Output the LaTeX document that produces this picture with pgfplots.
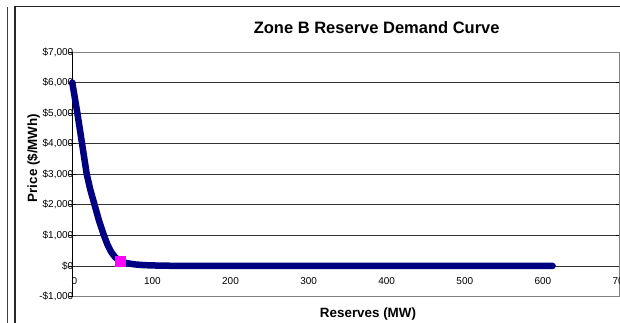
\documentclass[border=0pt]{standalone}
\usepackage{fontspec}
\setmainfont{Liberation Sans}
\usepackage{pgfplots}
\pgfplotsset{compat=1.18}
\definecolor{curvenavy}{RGB}{0,0,128}
\definecolor{markpink}{RGB}{255,0,255}
\begin{document}
\begin{tikzpicture}[x=1pt,y=1pt]
\useasboundingbox (0,0) rectangle (620,322);
% chart area frames
\draw[black!75, line width=1pt] (7,-5) -- (7,315);
\draw[black!85, line width=1.2pt] (15,-10) -- (15,315.5) -- (640,315.5);
\begin{axis}[
  at={(72.3pt,25.5pt)}, anchor=south west,
  scale only axis, width=546.7pt, height=244.5pt,
  xmin=0, xmax=700, ymin=-1000, ymax=7000,
  xtick={0,100,...,700},
  xticklabels={0,100,200,300,400,500,600,700},
  ytick={-1000,0,...,7000},
  yticklabels={{-\$1,000},{\$0},{\$1,000},{\$2,000},{\$3,000},{\$4,000},{\$5,000},{\$6,000},{\$7,000}},
  tick label style={font=\fontsize{10}{12}\selectfont, text=black},
  xticklabel style={anchor=base, yshift=12.2pt, xshift=2pt},
  yticklabel style={anchor=east, xshift=8pt},
  ymajorgrids,
  major grid style={black!80, line width=0.8pt},
  axis line style={black!50, line width=0.8pt},
  xtick style={draw=none},
  ytick style={black, line width=0.8pt},
  ytick align=center, major tick length=7pt,
  extra y ticks={0}, extra y tick labels={},
  extra y tick style={grid style={black, line width=1pt}, tick style={draw=none}},
  clip=false,
]
\draw[black, line width=1pt] (axis cs:0,-1000) -- (axis cs:0,7000);
% reserve demand curve
\addplot[curvenavy, line width=6.5pt, line cap=round, line join=round] table {
x y
0 6000
6.5 5000
12.5 4000
15.5 3500
18.5 3000
23 2500
28.5 2000
34 1500
40.5 1000
45 700
50 450
55 280
61 160
70 90
80 50
90 30
100 18
120 7
150 2
200 0
615 0
};
% current operating point
\addplot[only marks, mark=square*, mark size=5pt, mark options={draw=markpink, fill=markpink}] coordinates {(61,160)};
\end{axis}
\node[anchor=base, font=\bfseries\fontsize{16.5}{19}\selectfont] at (376.7,288.7) {Zone B Reserve Demand Curve};
\node[anchor=base, font=\bfseries\fontsize{13.4}{16}\selectfont] at (368,4.7) {Reserves (MW)};
\node[anchor=base, rotate=90, font=\bfseries\fontsize{13.4}{16}\selectfont] at (37,164) {Price (\$/MWh)};
\end{tikzpicture}
\end{document}
